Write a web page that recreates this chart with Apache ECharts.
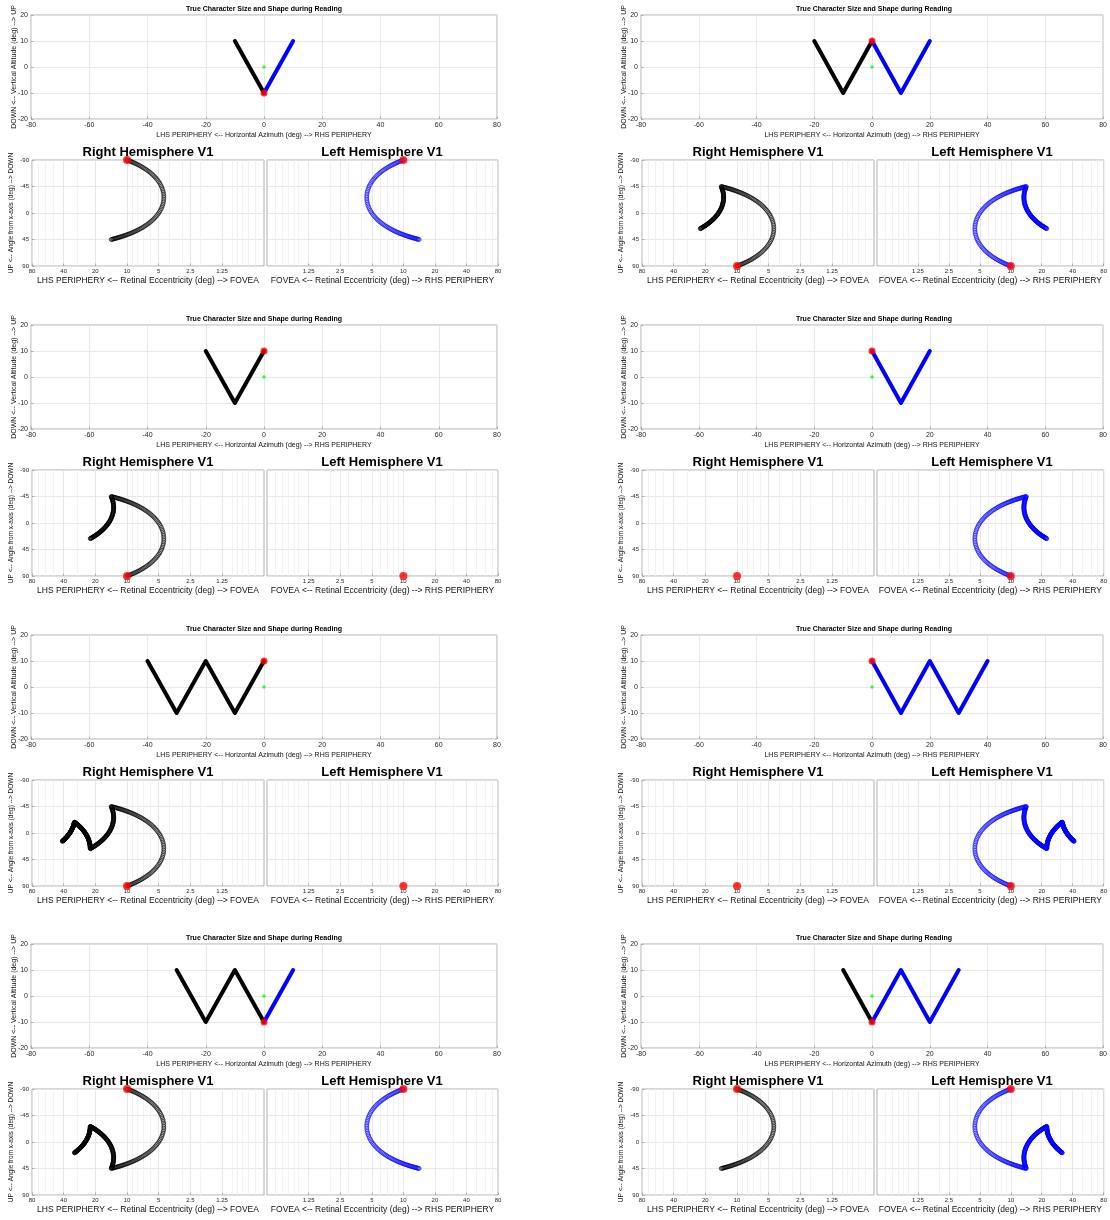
<!DOCTYPE html>
<html>
<head>
<meta charset="utf-8">
<script src="https://cdn.jsdelivr.net/npm/echarts@6/dist/echarts.min.js"></script>
<style>html,body{margin:0;padding:0;background:#fff}#chart{width:1110px;height:1220px}</style>
</head>
<body>
<div id="chart"></div>
<script>
// ---------------- DATA ----------------
// Axis tick labels
const AZIMUTH_TICKS = [-80, -60, -40, -20, 0, 20, 40, 60, 80];
const ALTITUDE_TICKS = [-20, -10, 0, 10, 20];
const ECC_TICKS = [1.25, 2.5, 5, 10, 20, 40, 80];
const ECC_MINOR = [0.6, 0.7, 0.8, 0.9, 1, 2, 3, 4, 6, 7, 8, 9, 30, 50, 60, 70];
const ANGLE_TICKS = [-90, -45, 0, 45, 90];
const ECC_RANGE = [0.5, 80];

// Fixation point (green)
const FIXATION = [0, 0];

// Letter strokes in the visual field [azimuth, altitude] (deg)
// LEFT_* = left visual field (black, -> right hemisphere), RIGHT_* = right visual field (blue, -> left hemisphere)
const LEFT_1 = [[-10, 10], [0, -10]];
const RIGHT_1 = [[0, -10], [10, 10]];
const RED_1 = [0, -10];

const LEFT_2 = [[-20, 10], [-10, -10], [0, 10]];
const RIGHT_2 = [[0, 10], [10, -10], [20, 10]];
const RED_2 = [0, 10];

const LEFT_3 = [[-20, 10], [-10, -10], [0, 10]];
const RIGHT_3 = [];
const RED_3 = [0, 10];

const LEFT_4 = [];
const RIGHT_4 = [[0, 10], [10, -10], [20, 10]];
const RED_4 = [0, 10];

const LEFT_5 = [[-40, 10], [-30, -10], [-20, 10], [-10, -10], [0, 10]];
const RIGHT_5 = [];
const RED_5 = [0, 10];

const LEFT_6 = [];
const RIGHT_6 = [[0, 10], [10, -10], [20, 10], [30, -10], [40, 10]];
const RED_6 = [0, 10];

const LEFT_7 = [[-30, 10], [-20, -10], [-10, 10], [0, -10]];
const RIGHT_7 = [[0, -10], [10, 10]];
const RED_7 = [0, -10];

const LEFT_8 = [[-10, 10], [0, -10]];
const RIGHT_8 = [[0, -10], [10, 10], [20, -10], [30, 10]];
const RED_8 = [0, -10];

// Text
const TOP_TITLE = 'True Character Size and Shape during Reading';
const TOP_XNAME = 'LHS PERIPHERY <-- Horizontal Azimuth (deg) --> RHS PERIPHERY';
const TOP_YNAME = 'DOWN <-- Vertical Altitude (deg) --> UP';
const RH_TITLE = 'Right Hemisphere V1';
const LH_TITLE = 'Left Hemisphere V1';
const RH_XNAME = 'LHS PERIPHERY <-- Retinal Eccentricity (deg) --> FOVEA';
const LH_XNAME = 'FOVEA <-- Retinal Eccentricity (deg) --> RHS PERIPHERY';
const V1_YNAME = 'UP <-- Angle from x-axis (deg) --> DOWN';

// ---------------- LAYOUT / STYLE ----------------
const PANELS = [
  [LEFT_1, RIGHT_1, RED_1], [LEFT_2, RIGHT_2, RED_2],
  [LEFT_3, RIGHT_3, RED_3], [LEFT_4, RIGHT_4, RED_4],
  [LEFT_5, RIGHT_5, RED_5], [LEFT_6, RIGHT_6, RED_6],
  [LEFT_7, RIGHT_7, RED_7], [LEFT_8, RIGHT_8, RED_8]
];
const COL_X = [0, 610];
const ROW_Y = [0, 310, 620, 929];
const FONT = '"Liberation Sans", Arial, Helvetica, sans-serif';
const BORDER = '#9a9a9a';
const GRIDC = '#e2e2e2';
const MINORC = '#efefef';
const TXT = '#262626';
const SAMPLES = 100;

// visual field -> (eccentricity, polar angle) mapping used by the V1 plots
function toV1(pts) {
  return pts.map(([x, y]) => [Math.hypot(x, y), Math.atan2(y, Math.abs(x)) * 180 / Math.PI]);
}
function alongStroke(stroke) {
  const out = [];
  for (let i = 0; i < stroke.length - 1; i++) {
    const [x0, y0] = stroke[i], [x1, y1] = stroke[i + 1];
    for (let k = 0; k < SAMPLES; k++) {
      const t = k / SAMPLES;
      out.push([x0 + (x1 - x0) * t, y0 + (y1 - y0) * t]);
    }
  }
  if (stroke.length) out.push(stroke[stroke.length - 1]);
  return out;
}

const option = { animation: false, backgroundColor: '#fff', grid: [], xAxis: [], yAxis: [], series: [], graphic: [] };

function addText(x, y, text, size, bold) {
  option.graphic.push({
    type: 'text', x: x, y: y, silent: true,
    style: { text: text, fontSize: size, fontWeight: bold ? 'bold' : 'normal', fontFamily: FONT,
      fill: '#000', align: 'center', verticalAlign: 'middle' }
  });
}

function addGrid(left, top, width, height) {
  option.grid.push({ left, top, width, height, show: true, borderColor: BORDER, borderWidth: 0.8, backgroundColor: 'transparent' });
  return option.grid.length - 1;
}

const tickStyle = { show: true, inside: true, length: 2.5, lineStyle: { color: '#888', width: 0.6 } };
const noLine = { show: false, onZero: false };

function eccAxis(g, inverse) {
  return {
    type: 'log', logBase: 2, gridIndex: g, min: ECC_RANGE[0], max: ECC_RANGE[1], inverse: inverse,
    axisLine: noLine,
    axisTick: Object.assign({ customValues: ECC_TICKS }, tickStyle),
    axisLabel: { customValues: ECC_TICKS, fontSize: 6, color: TXT, margin: 2, fontFamily: FONT },
    splitLine: { show: true, lineStyle: { color: GRIDC, width: 0.8 } },
    minorTick: { show: false }, minorSplitLine: { show: false },
    name: inverse ? RH_XNAME : LH_XNAME, nameLocation: 'middle', nameGap: 10.5, nameMoveOverlap: false,
    nameTextStyle: { fontSize: 8.5, color: '#111', fontFamily: FONT }
  };
}
function angleAxis(g, showLabels) {
  return {
    type: 'value', gridIndex: g, min: ANGLE_TICKS[0], max: ANGLE_TICKS[ANGLE_TICKS.length - 1], interval: 45, inverse: true,
    axisLine: noLine,
    axisTick: showLabels ? tickStyle : { show: false },
    axisLabel: { show: showLabels, fontSize: 6, color: TXT, margin: 3, fontFamily: FONT },
    splitLine: { show: true, lineStyle: { color: GRIDC, width: 0.8 } },
    name: showLabels ? V1_YNAME : '', nameLocation: 'middle', nameGap: 17.5, nameMoveOverlap: false,
    nameTextStyle: { fontSize: 6.5, color: '#111', fontFamily: FONT }
  };
}

function v1Series(g, stroke, red, color) {
  option.series.push({
    type: 'scatter', xAxisIndex: g, yAxisIndex: g, silent: true, clip: false, z: 2,
    data: toV1(alongStroke(stroke)), symbol: 'circle', symbolSize: 4,
    itemStyle: { color: 'rgba(0,0,0,0)', borderColor: color, borderWidth: 0.7 },
    markLine: {
      silent: true, symbol: 'none', z: 1, label: { show: false }, animation: false,
      lineStyle: { color: MINORC, width: 0.8, type: 'solid' },
      data: ECC_MINOR.map(v => ({ xAxis: v }))
    }
  });
  option.series.push({
    type: 'scatter', xAxisIndex: g, yAxisIndex: g, silent: true, clip: false, z: 4,
    data: toV1([red]), symbol: 'circle', symbolSize: 8, itemStyle: { color: '#ff0000' }
  });
}

PANELS.forEach(([leftStroke, rightStroke, red], i) => {
  const ox = COL_X[i % 2], oy = ROW_Y[Math.floor(i / 2)];

  // ---- visual field plot ----
  const gT = addGrid(ox + 31, oy + 15, 466, 104);
  option.xAxis.push({
    type: 'value', gridIndex: gT, min: AZIMUTH_TICKS[0], max: AZIMUTH_TICKS[AZIMUTH_TICKS.length - 1], interval: 20,
    axisLine: noLine, axisTick: tickStyle,
    axisLabel: { fontSize: 7, color: TXT, margin: 3, fontFamily: FONT },
    splitLine: { show: true, lineStyle: { color: GRIDC, width: 0.8 } },
    name: TOP_XNAME, nameLocation: 'middle', nameGap: 12.5, nameMoveOverlap: false,
    nameTextStyle: { fontSize: 7, color: '#111', fontFamily: FONT }
  });
  option.yAxis.push({
    type: 'value', gridIndex: gT, min: ALTITUDE_TICKS[0], max: ALTITUDE_TICKS[ALTITUDE_TICKS.length - 1], interval: 10,
    axisLine: noLine, axisTick: tickStyle,
    axisLabel: { fontSize: 7, color: TXT, margin: 3, fontFamily: FONT },
    splitLine: { show: true, lineStyle: { color: GRIDC, width: 0.8 } },
    name: TOP_YNAME, nameLocation: 'middle', nameGap: 13, nameMoveOverlap: false,
    nameTextStyle: { fontSize: 7, color: '#111', fontFamily: FONT }
  });
  if (leftStroke.length) option.series.push({
    type: 'line', xAxisIndex: gT, yAxisIndex: gT, data: leftStroke, symbol: 'none', silent: true, z: 2,
    lineStyle: { color: '#000', width: 4, cap: 'round', join: 'round' }
  });
  if (rightStroke.length) option.series.push({
    type: 'line', xAxisIndex: gT, yAxisIndex: gT, data: rightStroke, symbol: 'none', silent: true, z: 3,
    lineStyle: { color: '#0000ff', width: 4, cap: 'round', join: 'round' }
  });
  option.series.push({
    type: 'scatter', xAxisIndex: gT, yAxisIndex: gT, data: [FIXATION], symbol: 'circle', symbolSize: 3.5,
    silent: true, z: 4, itemStyle: { color: '#00ff00' }
  });
  option.series.push({
    type: 'scatter', xAxisIndex: gT, yAxisIndex: gT, data: [red], symbol: 'circle', symbolSize: 7,
    silent: true, clip: false, z: 5, itemStyle: { color: '#ff0000' }
  });
  addText(ox + 264, oy + 9.5, TOP_TITLE, 7, true);

  // ---- right hemisphere V1 ----
  const gR = addGrid(ox + 32, oy + 160, 232, 106);
  option.xAxis.push(eccAxis(gR, true));
  option.yAxis.push(angleAxis(gR, true));
  v1Series(gR, leftStroke, red, '#000');
  addText(ox + 148, oy + 152, RH_TITLE, 13, true);

  // ---- left hemisphere V1 ----
  const gL = addGrid(ox + 267, oy + 160, 231, 106);
  option.xAxis.push(eccAxis(gL, false));
  option.yAxis.push(angleAxis(gL, false));
  v1Series(gL, rightStroke, red, '#0000ff');
  addText(ox + 382, oy + 152, LH_TITLE, 13, true);
});

const chart = echarts.init(document.getElementById('chart'), null, { renderer: 'canvas' });
chart.setOption(option);
</script>
</body>
</html>
